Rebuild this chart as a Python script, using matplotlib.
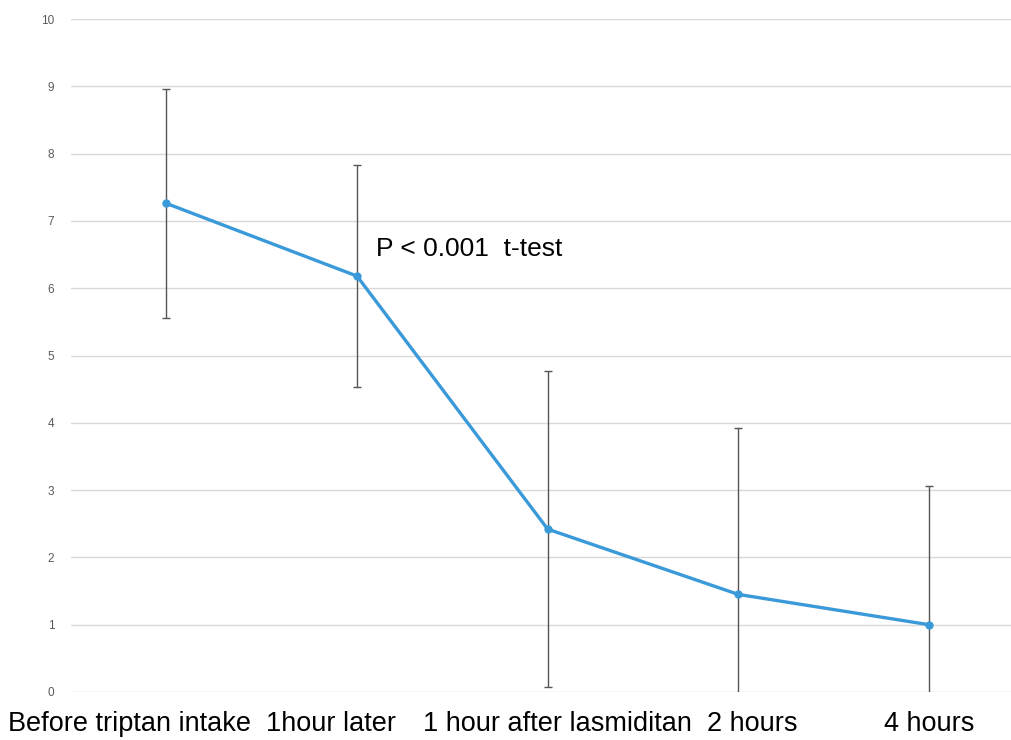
import numpy as np
import matplotlib.pyplot as plt
import matplotlib.transforms as mtransforms

plt.rcParams['font.family'] = ['Liberation Sans', 'DejaVu Sans']

# Data
categories = ["Before triptan intake", "1hour later", "1 hour after lasmiditan", "2 hours", "4 hours"]
means = [7.26, 6.18, 2.42, 1.45, 1.0]
sd = [1.70, 1.65, 2.35, 2.47, 2.06]
y_ticks = list(range(0, 11))

# label nudges (pixels) so the category text sits like in the original slide
label_shift = [-37, -26, 10, 14, 0]

fig = plt.figure(figsize=(10.11, 7.40), dpi=100)
ax = fig.add_axes([71 / 1011, 48 / 740, 940 / 1011, 673 / 740])

x = np.arange(len(categories))
ax.errorbar(x, means, yerr=sd, fmt="none", ecolor="#555555", elinewidth=1.0,
            capsize=3, capthick=1.0, zorder=2)
ax.plot(x, means, color="#3a9ad9", linewidth=2.4, marker="o", markersize=5,
        zorder=3, clip_on=False)

ax.set_ylim(0, 10)
ax.set_xlim(-0.5, 4.43)
ax.set_yticks(y_ticks)
ax.set_yticklabels([str(t) for t in y_ticks], fontsize=8.5, color="#595959")
ax.tick_params(axis="y", length=0, pad=12)
ax.grid(axis="y", color="#d9d9d9", linewidth=1.0)
ax.set_axisbelow(True)

ax.set_xticks(x)
ax.set_xticklabels(categories, fontsize=19.5, color="black")
ax.tick_params(axis="x", length=0, pad=14)
for lbl, dx in zip(ax.get_xticklabels(), label_shift):
    lbl.set_transform(lbl.get_transform() + mtransforms.ScaledTranslation(dx / 100, 0, fig.dpi_scale_trans))

for s in ax.spines.values():
    s.set_visible(False)

ax.text(1.1, 6.58, "P < 0.001  t-test", fontsize=19, va="center", ha="left")

fig.savefig("out.png", dpi=100)
